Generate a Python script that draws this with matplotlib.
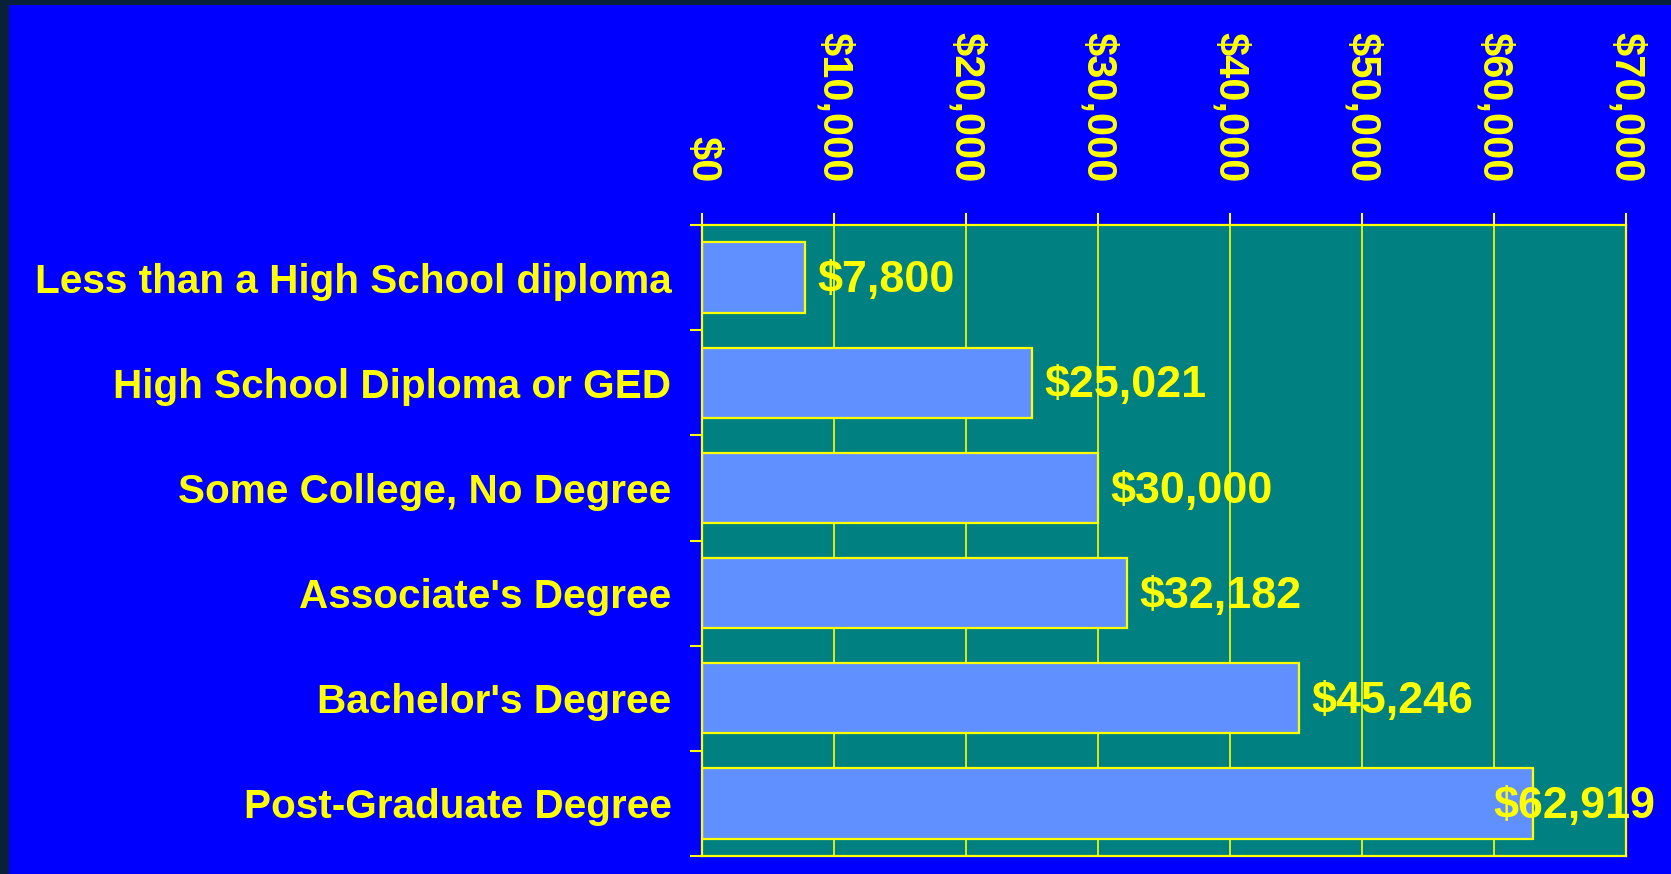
import matplotlib
matplotlib.use("Agg")
import matplotlib.pyplot as plt
from matplotlib.patches import Rectangle
from matplotlib.ticker import FuncFormatter, MultipleLocator, FixedLocator

categories = [
    "Less than a High School diploma",
    "High School Diploma or GED",
    "Some College, No Degree",
    "Associate's Degree",
    "Bachelor's Degree",
    "Post-Graduate Degree",
]
values = [7800, 25021, 30000, 32182, 45246, 62919]
x_ticks = [0, 10000, 20000, 30000, 40000, 50000, 60000, 70000]

YELLOW = "#FFFF00"
BLUE = "#0000FF"
TEAL = "#008080"
BAR = "#6090FF"
DARK = "#0a2038"
FONT = "Liberation Sans"

W, H, DPI = 1671, 874, 100
fig = plt.figure(figsize=(W / DPI, H / DPI), dpi=DPI, facecolor=BLUE)
# dark frame strips on the left and top edges
fig.patches.append(Rectangle((0, 0), 9 / W, 1, transform=fig.transFigure,
                             facecolor=DARK, edgecolor="none", zorder=-5))
fig.patches.append(Rectangle((0, 1 - 5 / H), 1, 5 / H, transform=fig.transFigure,
                             facecolor=DARK, edgecolor="none", zorder=-5))

ax = fig.add_axes([702 / W, 1 - 856 / H, (1626 - 702) / W, (856 - 225) / H])
ax.set_facecolor(TEAL)

ypos = list(range(len(categories)))
ax.barh(ypos, values, height=0.67, color=BAR, edgecolor=YELLOW, linewidth=1.6, zorder=3)

ax.set_xlim(0, 70000)
ax.set_ylim(len(categories) - 0.5, -0.5)

ax.xaxis.set_major_locator(FixedLocator(x_ticks))
ax.xaxis.set_major_formatter(FuncFormatter(lambda v, p: "${:,.0f}".format(v)))
ax.xaxis.tick_top()
ax.tick_params(axis="x", which="major", direction="out", length=9, width=1.5, color=YELLOW,
               pad=22, labelcolor=YELLOW, labelsize=30, labelrotation=-90,
               bottom=False, top=True)
for lab in ax.get_xticklabels():
    lab.set_fontfamily(FONT)
    lab.set_fontweight("bold")
    lab.set_ha("center")

ax.set_yticks(ypos)
ax.set_yticklabels(categories, fontfamily=FONT, fontweight="bold", fontsize=29.2, color=YELLOW)
ax.yaxis.set_minor_locator(MultipleLocator(1, offset=0.5))
ax.tick_params(axis="y", which="major", length=0, pad=22)
ax.tick_params(axis="y", which="minor", direction="out", length=9, width=1.5, color=YELLOW)

ax.grid(axis="x", color=YELLOW, linewidth=1.2, zorder=1)
ax.set_axisbelow(True)
for s in ax.spines.values():
    s.set_color(YELLOW)
    s.set_linewidth(1.6)
    s.set_zorder(4)

texts = []
for y, v in zip(ypos, values):
    t = ax.annotate("${:,}".format(v), xy=(v, y), xytext=(9, 1), textcoords="offset points",
                    ha="left", va="center_baseline", color=YELLOW, fontsize=32.3,
                    fontfamily=FONT, fontweight="bold", zorder=5, annotation_clip=False)
    texts.append(t)

fig.canvas.draw()
r = fig.canvas.get_renderer()
limit = W - 16
for t in texts:
    bb = t.get_window_extent(r)
    if bb.x1 > limit:
        shift = bb.x1 - limit
        t.xyann = (9 - shift * 72 / DPI, 1)

fig.savefig("out.png", dpi=DPI, facecolor=fig.get_facecolor())
